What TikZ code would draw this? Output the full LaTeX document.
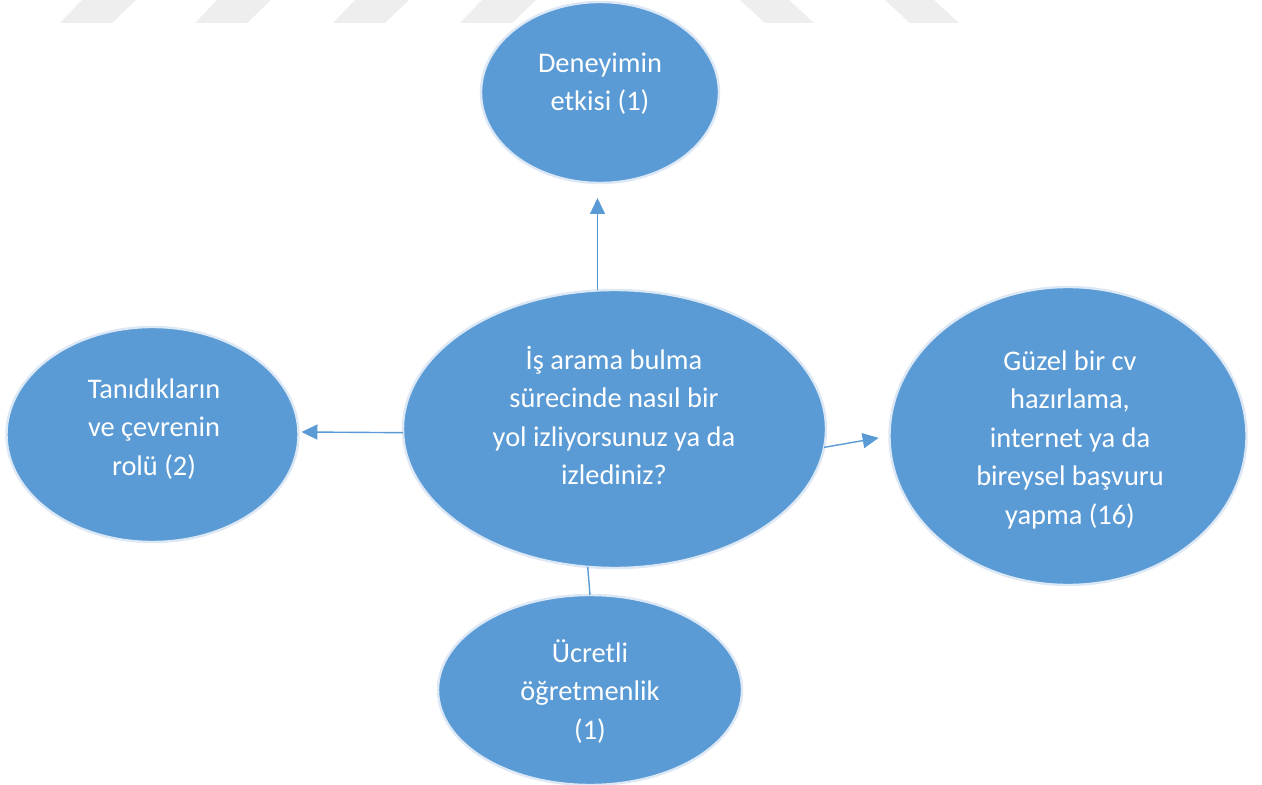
\documentclass[tikz,border=0pt]{standalone}
\usepackage{fontspec}
\setmainfont{Carlito}
\usepackage{tikz}
\usetikzlibrary{arrows.meta,shapes.geometric}
\definecolor{cBubble}{HTML}{5B9BD5}
\definecolor{cRim}{HTML}{DCE8F5}
\definecolor{cMark}{HTML}{EEEEEE}

\begin{document}
\begin{tikzpicture}[
  x=0.5pt,y=-0.5pt,
  bubble/.style={ellipse,draw=cRim,fill=cBubble,line width=1.2pt,inner sep=0pt,outer sep=0pt},
  lbl/.style ={text=white,align=center,inner sep=0pt,anchor=base,
               font=\fontsize{14.2pt}{19.25pt}\selectfont},
  a/.style   ={-{Triangle[length=8pt,width=7.5pt]},draw=cBubble,line width=0.7pt},
  ln/.style  ={draw=cBubble,line width=0.7pt},
]
\useasboundingbox (0,0) rectangle (1262,785);
\fill[white] (0,0) rectangle (1262,785);

\foreach \b in {60,195,333,460}
  {\fill[cMark] (\b,23) -- (\b+52,23) -- (\b+76,0) -- (\b+22,0) -- cycle;}
\foreach \b in {740,885}
  {\fill[cMark] (\b,0) -- (\b+49,0) -- (\b+74,23) -- (\b+25,23) -- cycle;}

\node[bubble,minimum width=119pt,minimum height=90.5pt] (deney) at (600,92.5) {};
\node[bubble,minimum width=211.5pt,minimum height=139pt] (soru) at (614.5,429) {};
\node[bubble,minimum width=146pt,minimum height=107.5pt] (tanid) at (152.5,434.5) {};
\node[bubble,minimum width=178.5pt,minimum height=149pt] (guzel) at (1068,436) {};
\node[bubble,minimum width=152pt,minimum height=95pt] (ucret) at (590,690) {};

\node[lbl] (deneyT) at (600,111) {Deneyimin\\ etkisi (1)};
\node[lbl] (soruT) at (614,485)
  {İş arama bulma\\ sürecinde nasıl bir\\ yol izliyorsunuz ya da\\ izlediniz?};
\node[lbl] (tanidT) at (154,475) {Tanıdıkların\\ ve çevrenin\\ rolü (2)};
\node[lbl] (guzelT) at (1070,524)
  {Güzel bir cv\\ hazırlama,\\ internet ya da\\ bireysel başvuru\\ yapma (16)};
\node[lbl] (ucretT) at (590,739) {Ücretli\\ öğretmenlik\\ (1)};

\draw[a,shorten >=7.5pt] (soru.97.6) -- (soru.97.6 |- deney.south);
\draw[a,shorten >=1.5pt] (soru.181.6) -- (tanid.1.8);
\draw[a,shorten >=5.5pt] (soru.-5.7) -- (guzel.180);
\draw[ln] (soru.259.6) -- (ucret.north);
\end{tikzpicture}
\end{document}
